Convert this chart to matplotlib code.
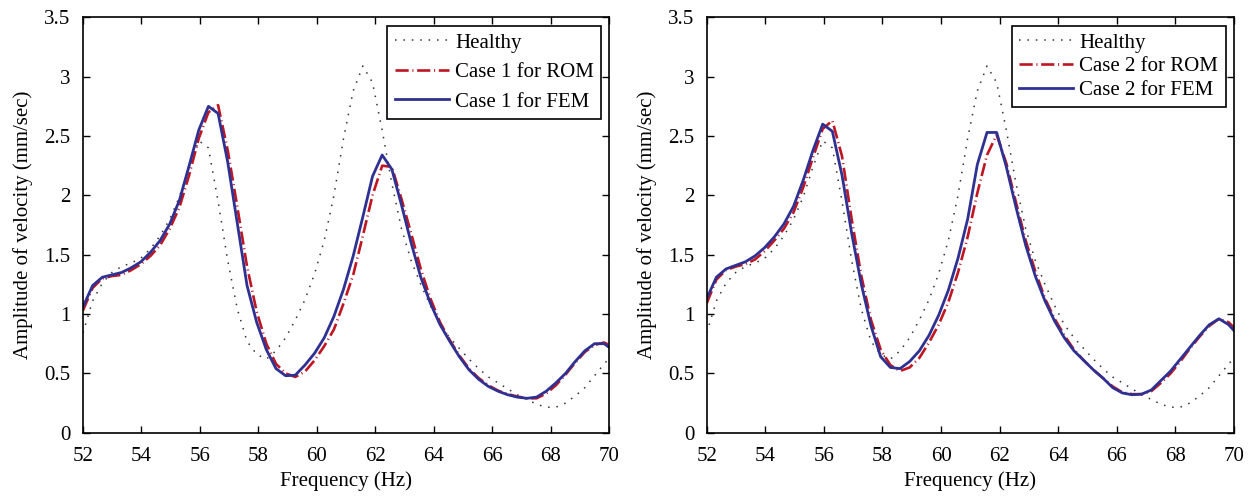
import numpy as np
import matplotlib
matplotlib.use("Agg")
import matplotlib.pyplot as plt

plt.rcParams["font.family"] = ["Liberation Serif", "DejaVu Serif"]
plt.rcParams["font.size"] = 15

# frequency grid (Hz), 0.33 Hz steps, last point lies just past the axis end
freq = np.round(52 + 0.33 * np.arange(56), 2)

healthy = [0.84, 1.11, 1.26, 1.35, 1.40, 1.43, 1.47, 1.55, 1.66, 1.80,
           1.99, 2.24, 2.46, 2.40, 1.95, 1.45, 1.04, 0.77, 0.66, 0.62,
           0.69, 0.80, 0.95, 1.12, 1.34, 1.62, 2.00, 2.48, 2.88, 3.09,
           2.95, 2.55, 2.10, 1.72, 1.45, 1.25, 1.07, 0.91, 0.80, 0.71,
           0.62, 0.54, 0.47, 0.42, 0.37, 0.32, 0.28, 0.24, 0.215, 0.215,
           0.25, 0.31, 0.38, 0.48, 0.58, 0.67]

rom1 = [1.03, 1.22, 1.30, 1.32, 1.33, 1.37, 1.42, 1.49, 1.58, 1.72,
        1.90, 2.17, 2.48, 2.70, 2.76, 2.38, 1.90, 1.40, 1.02, 0.75,
        0.58, 0.50, 0.47, 0.515, 0.61, 0.73, 0.87, 1.09, 1.33, 1.66,
        2.00, 2.25, 2.24, 1.97, 1.68, 1.38, 1.13, 0.93, 0.78, 0.65,
        0.54, 0.46, 0.40, 0.355, 0.325, 0.305, 0.29, 0.29, 0.33, 0.40,
        0.49, 0.59, 0.68, 0.74, 0.76, 0.72]

fem1 = [1.06, 1.24, 1.31, 1.33, 1.35, 1.39, 1.44, 1.52, 1.62, 1.76,
        1.96, 2.25, 2.55, 2.75, 2.69, 2.28, 1.76, 1.24, 0.93, 0.70,
        0.54, 0.48, 0.485, 0.57, 0.67, 0.80, 0.98, 1.21, 1.49, 1.82,
        2.16, 2.34, 2.22, 1.92, 1.60, 1.31, 1.09, 0.91, 0.77, 0.64,
        0.53, 0.45, 0.39, 0.35, 0.32, 0.30, 0.29, 0.30, 0.35, 0.42,
        0.50, 0.60, 0.69, 0.75, 0.75, 0.69]

rom2 = [1.09, 1.29, 1.37, 1.40, 1.42, 1.46, 1.53, 1.62, 1.72, 1.86,
        2.07, 2.32, 2.56, 2.63, 2.33, 1.80, 1.32, 0.95, 0.70, 0.57,
        0.52, 0.55, 0.63, 0.76, 0.91, 1.10, 1.35, 1.65, 2.02, 2.34,
        2.51, 2.27, 1.94, 1.62, 1.36, 1.13, 0.96, 0.82, 0.70, 0.61,
        0.53, 0.46, 0.39, 0.34, 0.325, 0.325, 0.35, 0.42, 0.50, 0.60,
        0.71, 0.81, 0.90, 0.96, 0.93, 0.85]

fem2 = [1.13, 1.31, 1.38, 1.41, 1.44, 1.49, 1.56, 1.65, 1.76, 1.91,
        2.13, 2.38, 2.60, 2.54, 2.17, 1.68, 1.25, 0.90, 0.64, 0.55,
        0.54, 0.60, 0.69, 0.82, 0.99, 1.20, 1.47, 1.80, 2.26, 2.53,
        2.53, 2.24, 1.90, 1.58, 1.32, 1.11, 0.94, 0.80, 0.69, 0.61,
        0.53, 0.46, 0.38, 0.335, 0.32, 0.325, 0.36, 0.44, 0.52, 0.62,
        0.72, 0.82, 0.91, 0.96, 0.91, 0.82]

xticks = np.arange(52, 71, 2)
yticks = [0, 0.5, 1, 1.5, 2, 2.5, 3, 3.5]
ytick_labels = ["0", "0.5", "1", "1.5", "2", "2.5", "3", "3.5"]

RED = "#be1622"
BLUE = "#2e3192"

fig = plt.figure(figsize=(12.55, 5.01), dpi=100)
axes = [fig.add_axes([0.0661, 0.1363, 0.4195, 0.8291]),
        fig.add_axes([0.5631, 0.1363, 0.4201, 0.8291])]

panels = [(axes[0], rom1, fem1, "Case 1", 0.48),
          (axes[1], rom2, fem2, "Case 2", 0.2)]

for ax, rom, fem, case, spacing in panels:
    ax.plot(freq, healthy, color="#333333", ls=(0, (1, 4.5)), lw=1.1,
            label="Healthy")
    ax.plot(freq, rom, color=RED, ls=(0, (5, 1.4, 0.4, 1.4)), lw=1.9,
            label=f"{case} for ROM")
    ax.plot(freq, fem, color=BLUE, ls="-", lw=2.0, label=f"{case} for FEM")
    ax.set_xlim(52, 70)
    ax.set_ylim(0, 3.5)
    ax.set_xticks(xticks)
    ax.set_yticks(yticks)
    ax.set_yticklabels(ytick_labels)
    ax.tick_params(direction="in", top=True, right=True, length=5, width=1)
    ax.tick_params(axis="x", pad=10)
    ax.tick_params(axis="y", pad=9)
    for s in ax.spines.values():
        s.set_linewidth(1.2)
    ax.set_xlabel("Frequency (Hz)", labelpad=4)
    ax.set_ylabel("Amplitude of velocity (mm/sec)", labelpad=8)
    leg = ax.legend(loc="upper right", fancybox=False, edgecolor="black",
                    framealpha=1, handlelength=2.6, handletextpad=0.3,
                    labelspacing=spacing, borderpad=0.35, borderaxespad=0.4)
    leg.get_frame().set_linewidth(1.2)

fig.savefig("out.png", dpi=100)
